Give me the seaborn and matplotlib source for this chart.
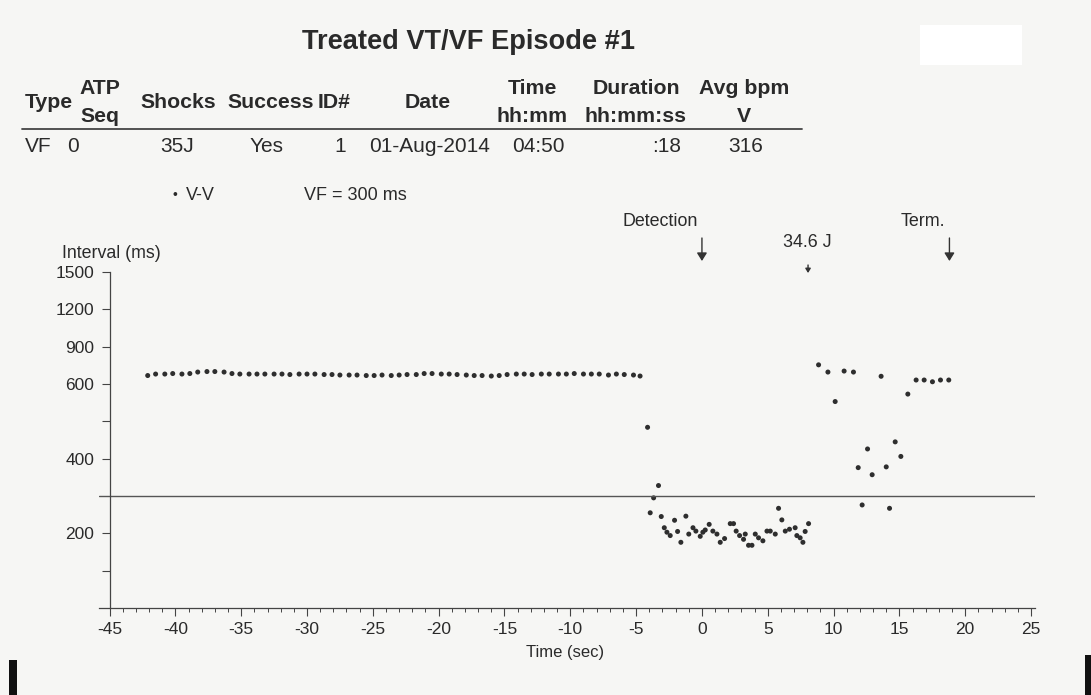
import numpy as np
import pandas as pd
import matplotlib
matplotlib.use("Agg")
import matplotlib.pyplot as plt
import seaborn as sns
from matplotlib.patches import Rectangle
from matplotlib.lines import Line2D

# ---------------- data ----------------
pre_time = [-42.1, -41.5, -40.8, -40.2, -39.5, -38.9, -38.3, -37.6, -37.0, -36.3,
            -35.7, -35.1, -34.4, -33.8, -33.2, -32.5, -31.9, -31.3, -30.6, -30.0,
            -29.4, -28.7, -28.1, -27.5, -26.8, -26.2, -25.5, -24.9, -24.3, -23.6,
            -23.0, -22.4, -21.7, -21.1, -20.5, -19.8, -19.2, -18.6, -17.9, -17.3,
            -16.7, -16.0, -15.4, -14.8, -14.1, -13.5, -12.9, -12.2, -11.6, -10.9,
            -10.3, -9.7, -9.0, -8.4, -7.8, -7.1, -6.5, -5.9, -5.2, -4.7]
pre_ms = [668, 680, 680, 684, 680, 684, 696, 700, 700, 696,
          684, 680, 680, 680, 680, 680, 680, 676, 680, 680,
          680, 676, 676, 672, 672, 672, 668, 668, 672, 668,
          672, 676, 676, 684, 684, 680, 680, 676, 672, 668,
          668, 664, 668, 676, 680, 680, 676, 680, 680, 680,
          680, 684, 680, 680, 680, 672, 680, 676, 672, 664]

vf_time = [-4.13, -3.93, -3.67, -3.30, -3.09, -2.86, -2.66, -2.41, -2.08, -1.85,
           -1.60, -1.22, -1.00, -0.68, -0.46, -0.13, 0.07, 0.25, 0.55, 0.83,
           1.14, 1.39, 1.72, 2.15, 2.40, 2.60, 2.86, 3.16, 3.29, 3.54,
           3.80, 4.05, 4.30, 4.63, 4.94, 5.19, 5.57, 5.82, 6.07, 6.33,
           6.65, 7.08, 7.21, 7.46, 7.67, 7.84, 8.10]
vf_ms = [484, 255, 295, 328, 245, 215, 203, 197, 235, 205,
         188, 246, 199, 215, 206, 196, 203, 209, 224, 206,
         199, 188, 193, 226, 226, 206, 197, 192, 199, 184,
         184, 199, 194, 190, 206, 206, 199, 267, 236, 206,
         211, 215, 197, 194, 188, 205, 226]

post_time = [8.86, 9.57, 10.12, 10.80, 11.51, 11.87, 12.17, 12.58, 12.93, 13.61,
             14.00, 14.25, 14.68, 15.11, 15.64, 16.27, 16.88, 17.51, 18.12, 18.75]
post_ms = [754, 696, 553, 704, 696, 376, 276, 426, 357, 662,
           378, 267, 445, 406, 573, 632, 632, 618, 632, 632]

x_ticks = [-45, -40, -35, -30, -25, -20, -15, -10, -5, 0, 5, 10, 15, 20, 25]
y_ticks = [150, 200, 400, 500, 600, 900, 1200, 1500]
y_tick_labels = ["", "200", "400", "", "600", "900", "1200", "1500"]
scale_nodes = [100, 150, 200, 300, 400, 500, 600, 900, 1200, 1500]
vf_zone_ms = 300

header_top = ["ATP", "Time", "Duration", "Avg bpm"]
header_mid = ["Type", "Shocks", "Success", "ID#", "Date"]
header_bot = ["Seq", "hh:mm", "hh:mm:ss", "V"]
row_vals = ["VF", "0", "35J", "Yes", "1", "01-Aug-2014", "04:50", ":18", "316"]

df = pd.DataFrame({
    "time_s": pre_time + vf_time + post_time,
    "interval_ms": pre_ms + vf_ms + post_ms,
})

# ---------------- style ----------------
sns.set_theme(style="ticks")
FONT = ["Liberation Sans Narrow", "Liberation Sans", "DejaVu Sans"]
plt.rcParams["font.family"] = FONT
TXT = "#2a2a2a"

W, H = 1091, 695
fig = plt.figure(figsize=(W / 100, H / 100), dpi=100)
fig.patch.set_facecolor("#f6f6f4")


def fx(x):
    return x / W


def fy(y):
    return 1 - y / H


ax = fig.add_axes([fx(99), fy(608), fx(1035) - fx(99), fy(272) - fy(608)])
ax.set_facecolor("none")

nodes = np.array(scale_nodes, dtype=float)
pos = np.arange(len(nodes), dtype=float)


def fwd(v):
    return np.interp(np.asarray(v, dtype=float), nodes, pos)


def inv(p):
    return np.interp(np.asarray(p, dtype=float), pos, nodes)


ax.set_yscale("function", functions=(fwd, inv))

sns.scatterplot(data=df, x="time_s", y="interval_ms", ax=ax, s=13,
                color="#2e2e2e", edgecolor="none", legend=False)

ax.axhline(vf_zone_ms, color="#555555", lw=1.0)

ax.set_xlim(-45.8, 25.3)
ax.set_ylim(100, 1500)
for s in ["top", "right"]:
    ax.spines[s].set_visible(False)
ax.spines["left"].set_position(("data", -45))
for s in ["left", "bottom"]:
    ax.spines[s].set_color("#444444")
    ax.spines[s].set_linewidth(0.9)

ax.set_xticks(x_ticks)
ax.set_xticklabels([str(t) for t in x_ticks])
ax.set_xticks(list(range(-45, 26)), minor=True)
ax.set_yticks(y_ticks)
ax.set_yticklabels(y_tick_labels)
ax.yaxis.set_minor_locator(matplotlib.ticker.NullLocator())
ax.tick_params(axis="x", which="major", direction="out", length=6, width=0.8,
               color="#444444", labelsize=12.5, labelcolor=TXT, pad=4)
ax.tick_params(axis="x", which="minor", direction="out", length=3, width=0.7,
               color="#444444")
ax.tick_params(axis="y", which="major", direction="out", length=6, width=0.8,
               color="#444444", labelsize=12.5, labelcolor=TXT, pad=5)
ax.set_xlabel("")
ax.set_ylabel("")
ax.grid(False)

# axis titles
fig.text(fx(62), fy(254), "Interval (ms)", fontsize=12.8, color=TXT, ha="left", va="center")
fig.text(fx(565), fy(652), "Time (sec)", fontsize=12, color=TXT, ha="center", va="center")

# legend-ish line
fig.text(fx(175), fy(195), "•", fontsize=10, color=TXT, ha="center", va="center")
fig.text(fx(186), fy(195), "V-V", fontsize=13, color=TXT, ha="left", va="center")
fig.text(fx(304), fy(195), "VF = 300 ms", fontsize=13, color=TXT, ha="left", va="center")

# event markers
xt = ax.get_xaxis_transform()


def yfrac(ypx):
    return 1 + (272 - ypx) / (608 - 272)


ax.text(-3.17, yfrac(221), "Detection", transform=xt, fontsize=12.9, color=TXT,
        ha="center", va="center", clip_on=False)
ax.text(8.0, yfrac(242), "34.6 J", transform=xt, fontsize=12.9, color=TXT,
        ha="center", va="center", clip_on=False)
ax.text(16.8, yfrac(221), "Term.", transform=xt, fontsize=12.9, color=TXT,
        ha="center", va="center", clip_on=False)
for xv, y0, y1, hw in [(0, 238, 261, 0.25), (18.8, 238, 261, 0.25), (8.06, 265, 273, 0.13)]:
    ax.annotate("", xy=(xv, yfrac(y1)), xytext=(xv, yfrac(y0)), xycoords=xt,
                textcoords=xt, annotation_clip=False,
                arrowprops=dict(arrowstyle=f"-|>,head_length={hw*1.6},head_width={hw}",
                                color="#333333", lw=1.0, shrinkA=0, shrinkB=0))

# ---------------- header ----------------
fig.text(fx(469), fy(42), "Treated VT/VF Episode #1", fontsize=19.6, fontweight="bold",
         color=TXT, ha="center", va="center")

HB = dict(fontsize=15.3, fontweight="bold", color=TXT, va="center")
fig.text(fx(100), fy(89), header_top[0], ha="center", **HB)
fig.text(fx(532), fy(89), header_top[1], ha="center", **HB)
fig.text(fx(636), fy(89), header_top[2], ha="center", **HB)
fig.text(fx(744), fy(89), header_top[3], ha="center", **HB)

fig.text(fx(25), fy(102), header_mid[0], ha="left", **HB)
fig.text(fx(140), fy(102), header_mid[1], ha="left", **HB)
fig.text(fx(227), fy(102), header_mid[2], ha="left", **HB)
fig.text(fx(318), fy(102), header_mid[3], ha="left", **HB)
fig.text(fx(428), fy(102), header_mid[4], ha="center", **HB)

fig.text(fx(100), fy(117), header_bot[0], ha="center", **HB)
fig.text(fx(532), fy(117), header_bot[1], ha="center", **HB)
fig.text(fx(636), fy(117), header_bot[2], ha="center", **HB)
fig.text(fx(744), fy(117), header_bot[3], ha="center", **HB)

fig.add_artist(Line2D([fx(22), fx(802)], [fy(129), fy(129)], transform=fig.transFigure,
                      color="#444444", lw=1.3))

RB = dict(fontsize=15, color=TXT, va="center")
fig.text(fx(25), fy(147), row_vals[0], ha="left", **RB)
fig.text(fx(79), fy(147), row_vals[1], ha="right", **RB)
fig.text(fx(160), fy(147), row_vals[2], ha="left", **RB)
fig.text(fx(250), fy(147), row_vals[3], ha="left", **RB)
fig.text(fx(346), fy(147), row_vals[4], ha="right", **RB)
fig.text(fx(369), fy(147), row_vals[5], ha="left", **RB)
fig.text(fx(512), fy(147), row_vals[6], ha="left", **RB)
fig.text(fx(681), fy(147), row_vals[7], ha="right", **RB)
fig.text(fx(728), fy(147), row_vals[8], ha="left", **RB)

# scan artifacts: redaction box and edge bars
fig.add_artist(Rectangle((fx(920), fy(65)), fx(102), 40 / H, transform=fig.transFigure,
                         facecolor="white", edgecolor="none"))
fig.add_artist(Rectangle((fx(9), 0), fx(8), 35 / H, transform=fig.transFigure,
                         facecolor="#111111", edgecolor="none"))
fig.add_artist(Rectangle((fx(1085), 0), fx(6), 40 / H, transform=fig.transFigure,
                         facecolor="#111111", edgecolor="none"))

fig.savefig("out.png", dpi=100, facecolor=fig.get_facecolor())
